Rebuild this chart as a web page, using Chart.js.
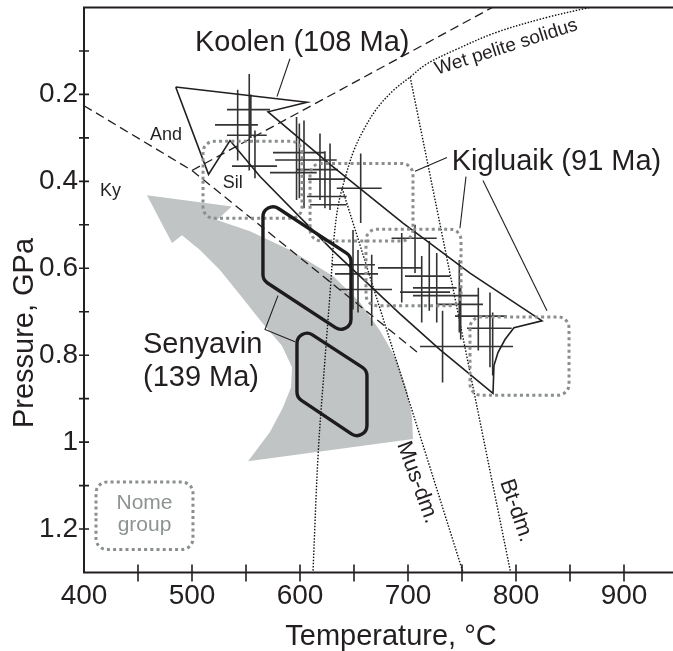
<!DOCTYPE html>
<html><head><meta charset="utf-8">
<script src="https://cdn.jsdelivr.net/npm/chart.js@4/dist/chart.umd.min.js"></script>
<style>html,body{margin:0;padding:0;background:#fff;overflow:hidden;width:673px;height:651px}canvas{display:block}</style>
</head><body>
<canvas id="c" width="678" height="651"></canvas>
<script>
// ---------- axis tick labels ----------
const tempTicks = [400, 500, 600, 700, 800, 900];
const pressureTicks = [0.2, 0.4, 0.6, 0.8, 1, 1.2];

// ---------- reaction / melting curves (T in °C, P in GPa) ----------
const kyAndT = [400, 500], kyAndP = [0.226, 0.375];
const andSilT = [500, 778], andSilP = [0.375, 0.0];
const kySilT = [500, 709], kySilP = [0.375, 0.794];
const solidusT = [868, 828.4, 782.1, 745.1, 717.3, 701.9, 686.4, 671.0, 658.6, 649.4, 641.7, 635.5, 631.5, 628.2, 623.1, 616.9, 612.0];
const solidusP = [0.000, 0.023, 0.057, 0.096, 0.130, 0.160, 0.191, 0.233, 0.283, 0.332, 0.393, 0.454, 0.530, 0.645, 0.810, 1.023, 1.300];
const musDmT = [639, 751], musDmP = [0.416, 1.300];
const btDmT = [702, 795], btDmP = [0.160, 1.300];

// ---------- grey P-T path arrow (outline vertices) ----------
const arrowT = [458.3, 536.8, 523.1, 553.7, 590.7, 630.6, 655.6, 674.1, 689.8, 699.1, 703.7, 704.6, 551.9, 572.2, 584.3, 591.7, 592.6, 583.3, 564.8, 544.4, 525.9, 507.4, 490.7, 481.5, 458.3];
const arrowP = [0.432, 0.458, 0.489, 0.515, 0.558, 0.618, 0.679, 0.744, 0.812, 0.881, 0.943, 0.993, 1.044, 0.977, 0.920, 0.874, 0.828, 0.778, 0.725, 0.661, 0.604, 0.558, 0.524, 0.542, 0.432];

// ---------- Koolen – Kigluaik P-T field outline ----------
const fieldT = [484.9, 606.5, 570.4, 627.8, 695.4, 757.4, 824.1, 798.1, 789.8, 783.3, 779.6, 778.7, 729.6, 692.6, 630.6, 563.0, 535.2, 515.3, 484.9];
const fieldP = [0.183, 0.218, 0.240, 0.361, 0.496, 0.611, 0.721, 0.737, 0.764, 0.794, 0.824, 0.888, 0.787, 0.705, 0.560, 0.389, 0.306, 0.384, 0.183];

// ---------- Senyavin (139 Ma) boxes ----------
const senyavinUpperT = [565.7, 647.2, 647.2, 565.7], senyavinUpperP = [0.439, 0.572, 0.760, 0.627];
const senyavinLowerT = [597.2, 662.0, 662.0, 597.2], senyavinLowerP = [0.730, 0.835, 1.005, 0.897];

// ---------- dotted (Nome group) fields: Tmin, Tmax, Pmin, Pmax ----------
const nomeTmin = [510.2, 609.3, 661.1, 757.4, 411.1];
const nomeTmax = [601.9, 704.6, 749.1, 849.1, 500.9];
const nomePmin = [0.308, 0.359, 0.510, 0.712, 1.092];
const nomePmax = [0.485, 0.537, 0.686, 0.892, 1.247];

// ---------- Kigluaik / Koolen thermobarometry with error bars ----------
const ebT   = [542.3, 553.0, 554.5, 558.3, 596.8, 599.4, 603.7, 618.5, 623.1, 627.8, 627.8, 656.2, 649.1, 653.7, 666.4, 706.5, 694.2, 712.7, 719.7, 726.6, 747.5, 748.8, 732.0, 765.1, 775.9, 778.4];
const ebP   = [0.270, 0.235, 0.294, 0.365, 0.334, 0.380, 0.351, 0.373, 0.435, 0.395, 0.454, 0.416, 0.592, 0.613, 0.649, 0.531, 0.599, 0.618, 0.645, 0.655, 0.663, 0.683, 0.780, 0.710, 0.738, 0.738];
const ebTlo = [521.3, 532.4, 532.4, 537.0, 575.0, 572.2, 577.0, 597.0, 606.5, 607.4, 609.3, 634.0, 629.4, 632.4, 637.0, 684.8, 672.2, 697.2, 704.6, 692.6, 704.6, 726.6, 711.1, 743.5, 754.6, 778.4];
const ebThi = [561.0, 572.2, 569.2, 578.7, 623.1, 615.5, 634.0, 635.2, 643.2, 641.7, 643.2, 675.6, 669.4, 672.2, 685.2, 726.6, 712.7, 738.9, 745.0, 738.9, 765.1, 769.4, 797.2, 791.4, 796.0, 778.4];
const ebPlo = [0.189, 0.153, 0.200, 0.283, 0.252, 0.267, 0.260, 0.290, 0.331, 0.313, 0.454, 0.336, 0.512, 0.558, 0.569, 0.500, 0.519, 0.572, 0.537, 0.565, 0.581, 0.645, 0.698, 0.645, 0.656, 0.702];
const ebPhi = [0.352, 0.375, 0.300, 0.393, 0.443, 0.439, 0.462, 0.443, 0.462, 0.466, 0.454, 0.496, 0.695, 0.702, 0.732, 0.611, 0.679, 0.725, 0.698, 0.725, 0.748, 0.764, 0.863, 0.789, 0.828, 0.847];

// ---------- leader lines ----------
const leaderKoolenT = [590.7, 578.7], leaderKoolenP = [0.118, 0.205];
const leaderKig1T = [736.1, 706.5], leaderKig1P = [0.345, 0.377];
const leaderKig2T = [753.7, 748.1], leaderKig2P = [0.389, 0.508];
const leaderKig3T = [769.4, 828.7], leaderKig3P = [0.398, 0.698];
const leaderSenT = [579.6, 567.6, 595.4], leaderSenP = [0.663, 0.741, 0.769];

// ---------- text labels ----------
const labelText  = ['Koolen (108 Ma)', 'Kigluaik (91 Ma)', 'Senyavin', '(139 Ma)', 'And', 'Sil', 'Ky', 'Wet pelite solidus', 'Mus-dm.', 'Bt-dm.', 'Nome', 'group'];
const labelT     = [502.8, 740.5, 454.6, 454.6, 461.1, 528.4, 414.8, 726.9, 689.8, 785.2, 456.0, 456.0];
const labelP     = [0.100, 0.374, 0.794, 0.870, 0.306, 0.416, 0.434, 0.155, 1.005, 1.092, 1.153, 1.204];
const labelSize  = [29, 29, 29, 29, 18, 18, 18, 19, 22, 22, 21, 21];
const labelAngle = [0, 0, 0, 0, 0, 0, 0, -17.7, 70, 71, 0, 0];
const labelAlign = ['left','left','left','left','left','left','left','left','left','left','center','center'];
const labelGrey  = [0, 0, 0, 0, 0, 0, 0, 0, 0, 0, 1, 1];

const INK = '#231f20';
const FONT = '"Liberation Sans", Arial, Helvetica, sans-serif';

function pts(T, P) { return T.map((t, i) => ({x: t, y: P[i]})); }
function lineDs(T, P, extra) {
  return Object.assign({type: 'line', data: pts(T, P), borderColor: INK, borderWidth: 1.3,
    pointRadius: 0, fill: false, tension: 0, order: 5}, extra || {});
}

// error bar segments built from the arrays
const ebData = [];
ebT.forEach((t, i) => {
  if (ebThi[i] > ebTlo[i]) { ebData.push({x: ebTlo[i], y: ebP[i]}, {x: ebThi[i], y: ebP[i]}, {x: NaN, y: NaN}); }
  if (ebPhi[i] > ebPlo[i]) { ebData.push({x: t, y: ebPlo[i]}, {x: t, y: ebPhi[i]}, {x: NaN, y: NaN}); }
});

const DOT = {borderDash: [1.5, 1.6], borderWidth: 1.4, borderColor: '#111'};
const datasets = [
  {type: 'line', data: pts(arrowT, arrowP), borderWidth: 0, backgroundColor: '#c0c4c4', fill: 'shape', pointRadius: 0, tension: 0, order: 20},
  lineDs(kyAndT, kyAndP, {borderDash: [9, 5]}),
  lineDs(andSilT, andSilP, {borderDash: [9, 5]}),
  lineDs(kySilT, kySilP, {borderDash: [9, 5]}),
  lineDs(solidusT, solidusP, Object.assign({tension: 0.35}, DOT)),
  lineDs(musDmT, musDmP, DOT),
  lineDs(btDmT, btDmP, DOT),
  {type: 'line', data: ebData, borderColor: '#333333', borderWidth: 1.6, pointRadius: 0, spanGaps: false, fill: false, order: 4},
  lineDs(fieldT, fieldP, {borderWidth: 1.6, order: 3}),
  lineDs(leaderKoolenT, leaderKoolenP, {borderWidth: 1.1}),
  lineDs(leaderKig1T, leaderKig1P, {borderWidth: 1.1}),
  lineDs(leaderKig2T, leaderKig2P, {borderWidth: 1.1}),
  lineDs(leaderKig3T, leaderKig3P, {borderWidth: 1.1}),
  lineDs(leaderSenT, leaderSenP, {borderWidth: 1.1})
];

function roundedPath(ctx, p, r) {
  const n = p.length;
  ctx.beginPath();
  ctx.moveTo((p[n - 1].x + p[0].x) / 2, (p[n - 1].y + p[0].y) / 2);
  for (let i = 0; i < n; i++) { const a = p[i], b = p[(i + 1) % n]; ctx.arcTo(a.x, a.y, b.x, b.y, r); }
  ctx.closePath();
}

const overlay = {
  id: 'overlay',
  afterDatasetsDraw(chart) {
    const {ctx, scales: {x, y}, chartArea: ca} = chart;
    const px = (t, p) => ({x: x.getPixelForValue(t), y: y.getPixelForValue(p)});
    ctx.save();
    // dotted Nome-group fields
    ctx.setLineDash([3, 3.2]);
    ctx.lineWidth = 3;
    ctx.strokeStyle = '#8a8e8e';
    nomeTmin.forEach((t0, i) => {
      const a = px(t0, nomePmin[i]), b = px(nomeTmax[i], nomePmax[i]);
      roundedPath(ctx, [a, {x: b.x, y: a.y}, b, {x: a.x, y: b.y}], 11);
      ctx.stroke();
    });
    ctx.setLineDash([]);
    // Senyavin boxes
    ctx.lineWidth = 3.4;
    ctx.strokeStyle = '#1e1b1c';
    [[senyavinUpperT, senyavinUpperP], [senyavinLowerT, senyavinLowerP]].forEach(([T, P]) => {
      roundedPath(ctx, T.map((t, i) => px(t, P[i])), 10);
      ctx.stroke();
    });
    // text labels
    labelText.forEach((s, i) => {
      const q = px(labelT[i], labelP[i]);
      ctx.save();
      ctx.translate(q.x, q.y);
      ctx.rotate(labelAngle[i] * Math.PI / 180);
      ctx.font = labelSize[i] + 'px ' + FONT;
      ctx.fillStyle = labelGrey[i] ? '#8d9292' : INK;
      ctx.textAlign = labelAlign[i];
      ctx.textBaseline = 'alphabetic';
      ctx.fillText(s, 0, 0);
      ctx.restore();
    });
    // axes frame and crossing tick marks
    ctx.strokeStyle = INK;
    ctx.lineWidth = 2;
    ctx.beginPath();
    ctx.moveTo(ca.right + 2, ca.top); ctx.lineTo(ca.left, ca.top);
    ctx.lineTo(ca.left, ca.bottom); ctx.lineTo(ca.right + 2, ca.bottom);
    ctx.stroke();
    ctx.lineWidth = 1.6;
    ctx.beginPath();
    x.ticks.forEach(tk => {
      if (tk.value <= x.min || tk.value >= x.max || tk.value % 50 !== 0) return;
      const X = x.getPixelForValue(tk.value);
      ctx.moveTo(X, ca.bottom - 8); ctx.lineTo(X, ca.bottom + 9);
    });
    y.ticks.forEach(tk => {
      if (tk.value <= y.min + 1e-6 || tk.value >= y.max - 1e-6) return;
      const Y = y.getPixelForValue(tk.value);
      ctx.moveTo(ca.left - 5, Y); ctx.lineTo(ca.left + 5, Y);
    });
    ctx.stroke();
    // axis titles
    ctx.fillStyle = INK;
    ctx.font = '29px ' + FONT;
    ctx.textAlign = 'center';
    ctx.textBaseline = 'alphabetic';
    ctx.fillText('Temperature, °C', 391, 645);
    ctx.save();
    ctx.translate(33, 333);
    ctx.rotate(-Math.PI / 2);
    ctx.fillText('Pressure, GPa', 0, 0);
    ctx.restore();
    ctx.restore();
  }
};

Chart.defaults.font.family = FONT;
Chart.defaults.color = INK;

new Chart(document.getElementById('c'), {
  type: 'scatter',
  data: {datasets},
  options: {
    responsive: false, animation: false, devicePixelRatio: 1,
    layout: {padding: {top: 7.5, right: 0, bottom: 0, left: 0}},
    plugins: {legend: {display: false}, tooltip: {enabled: false}},
    scales: {
      x: {
        type: 'linear', min: 400, max: 950,
        afterFit(s) { s.height = 78.5; s.paddingLeft = 0; s.paddingRight = 0; },
        grid: {display: false, drawTicks: false}, border: {display: false},
        ticks: {stepSize: 50, autoSkip: false, maxRotation: 0, padding: 7, font: {size: 28}, color: INK,
          callback: v => tempTicks.includes(v) ? String(v) : ''}
      },
      y: {
        type: 'linear', min: 0, max: 1.3, reverse: true,
        afterFit(s) { s.width = 84; s.paddingTop = 0; s.paddingBottom = 0; },
        grid: {display: false, drawTicks: false}, border: {display: false},
        ticks: {stepSize: 0.1, autoSkip: false, padding: 6, font: {size: 28}, color: INK,
          callback: v => { const t = pressureTicks.find(q => Math.abs(q - v) < 1e-6); return t === undefined ? '' : String(t); }}
      }
    }
  },
  plugins: [overlay]
});
</script>
</body></html>
